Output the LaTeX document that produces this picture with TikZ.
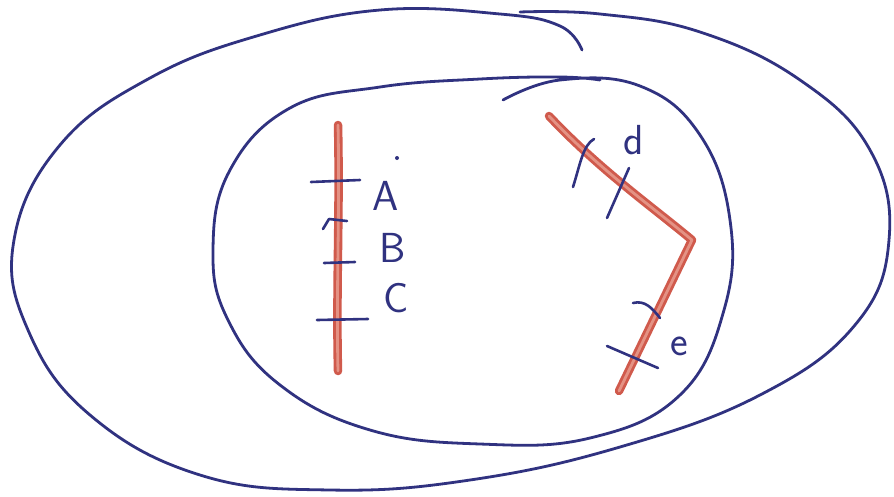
\documentclass[tikz,border=0pt]{standalone}
\usepackage{tikz}
\usetikzlibrary{positioning,calc}

\definecolor{inkblue}{RGB}{48,50,128}
\definecolor{penred}{RGB}{208,90,76}
\definecolor{penlight}{RGB}{228,146,132}

\begin{document}
\begin{tikzpicture}[
    x=1pt, y=-1pt,
    ink/.style={draw=inkblue, line width=2.8pt, line cap=round, line join=round},
    tickmark/.style={draw=inkblue, line width=2.6pt, line cap=round, line join=round},
    redline/.style={draw=penred, line width=8.5pt, line cap=round, line join=round},
    redcore/.style={draw=penlight, line width=2.8pt, line cap=round, line join=round},
    letter/.style={text=inkblue, font=\sffamily\fontsize{42}{42}\selectfont, inner sep=0pt}
]
    \useasboundingbox (0,0) rectangle (894,496);
    \fill[white] (0,0) rectangle (894,496);

    % outer set
    \draw[ink] plot[smooth, tension=0.7] coordinates {
        (582,50) (560,26) (500,14) (380,10) (260,35) (150,78) (60,145)
        (14,240) (28,330) (90,415) (200,475) (330,490) (470,480)
        (620,447) (760,395) (855,325) (889,240) (870,150) (800,80)
        (700,32) (600,14) (520,12)};

    % inner set
    \draw[ink] plot[smooth, tension=0.7] coordinates {
        (503,100) (560,80) (640,86) (700,135) (730,220) (724,310)
        (680,395) (590,438) (480,444) (370,430) (280,385) (228,320)
        (213,250) (230,170) (290,108) (380,87) (480,79) (560,77) (600,80)};

    % left red segment
    \coordinate (ltop) at (338,125);
    \coordinate (lbot) at (338,371);
    \draw[redline] (ltop) .. controls (340,210) and (336,290) .. (lbot);
    \draw[redcore] (ltop) .. controls (340,210) and (336,290) .. (lbot);

    % right red polyline
    \coordinate (rtop) at (549,116);
    \coordinate (rknee) at (692,240);
    \coordinate (rbot) at (619,391);
    \draw[redline] (rtop) .. controls (600,170) and (650,205) .. (rknee) -- (rbot);
    \draw[redcore] (rtop) .. controls (600,170) and (650,205) .. (rknee) -- (rbot);

    % ticks on the left segment
    \draw[tickmark] (311,182) -- (360,180);
    \draw[tickmark] (323,229) -- (329,219) -- (347,221);
    \draw[tickmark] (324,263) -- (355,262);
    \draw[tickmark] (317,320) -- (368,319);

    % ticks on the right polyline
    \draw[tickmark] (573,187) .. controls (580,165) and (583,145) .. (594,139);
    \draw[tickmark] (607,218) -- (629,168);
    \draw[tickmark] (633,303) .. controls (645,300) and (652,308) .. (660,318);
    \draw[tickmark] (607,346) -- (658,368);

    % point labels
    \node[letter] (labA) at (386,196) {A};
    \fill[inkblue] (397,158) circle (2pt);
    \node[letter] (labB) at (393,248) {B};
    \node[letter] (labC) at (396,298) {C};
    \node[letter] (labd) at (634,140) {d};
    \node[letter] (labe) at (679,346) {e};
\end{tikzpicture}
\end{document}
